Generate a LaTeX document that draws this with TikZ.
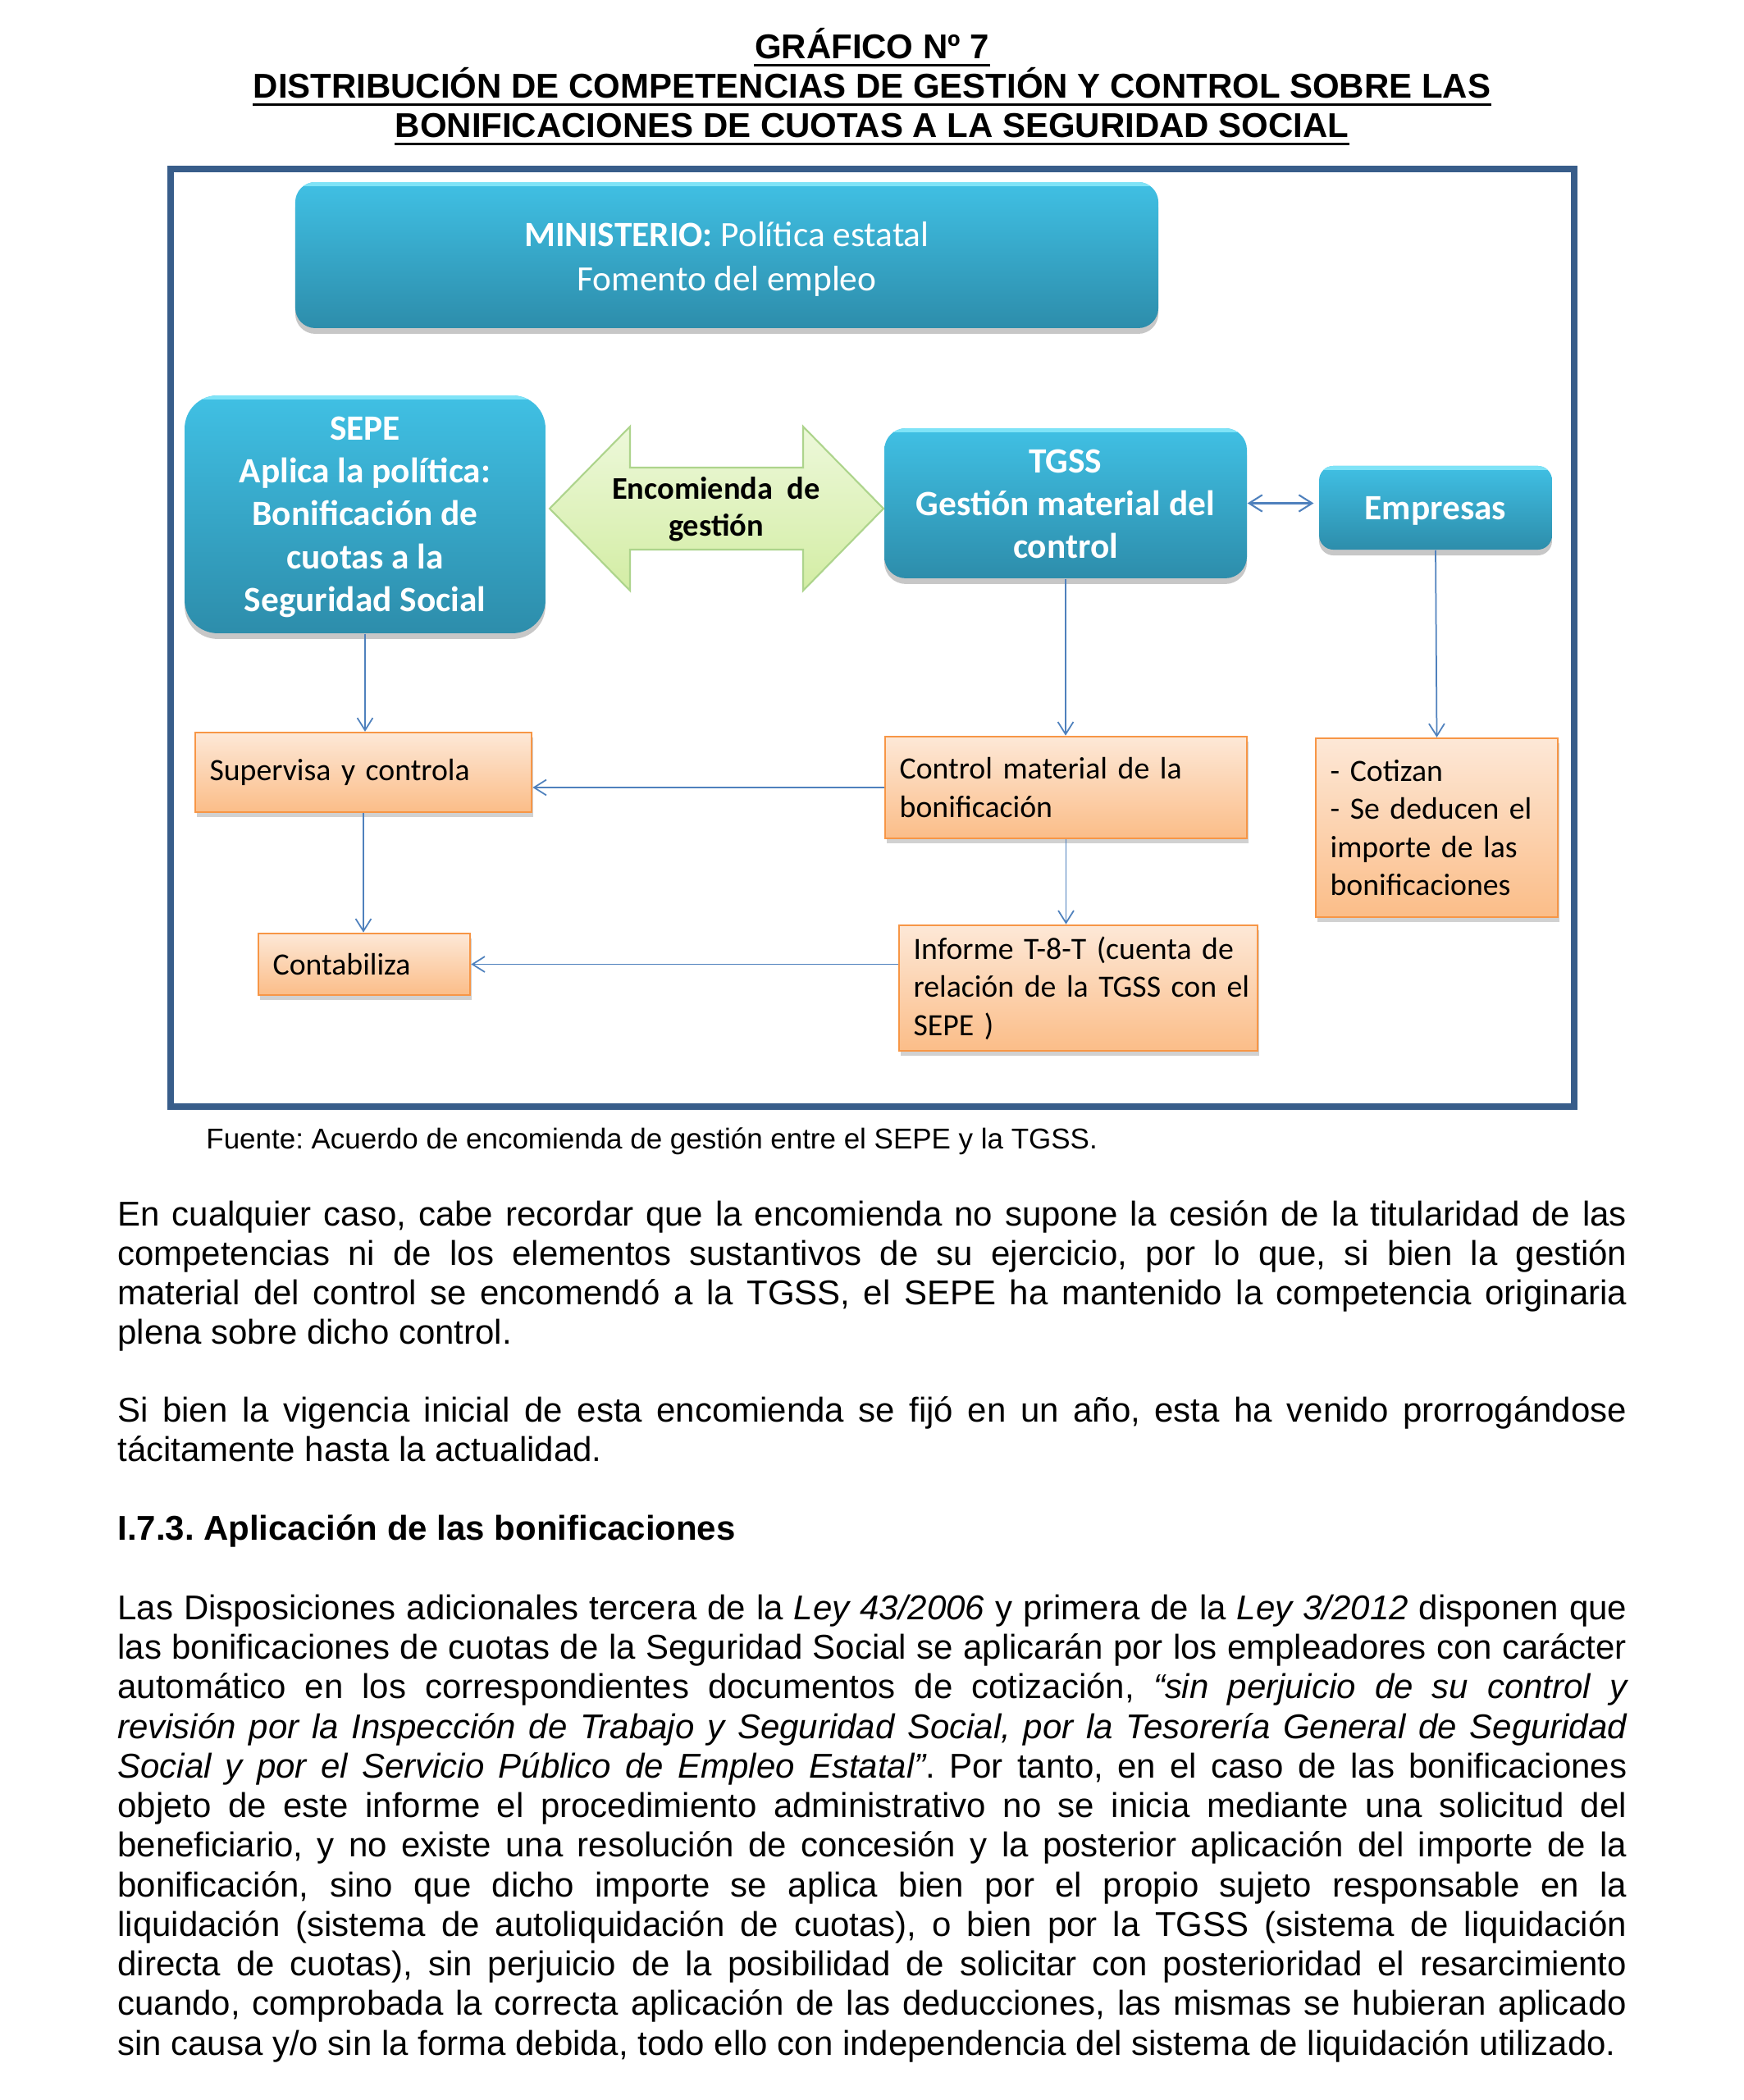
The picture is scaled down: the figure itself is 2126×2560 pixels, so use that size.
\documentclass[tikz,border=0pt]{standalone}
\usepackage{fontspec}
\setmainfont{Liberation Sans}
\newfontfamily\calib{Carlito}
\usetikzlibrary{arrows.meta,shadows,calc}
\definecolor{frameblue}{HTML}{385D8A}
\definecolor{connblue}{HTML}{4F81BD}
\definecolor{tealtop}{HTML}{40C0E4}
\definecolor{tealbot}{HTML}{2D8DAB}
\definecolor{teallight}{HTML}{7FE3F7}
\definecolor{orgtop}{HTML}{FDE8D7}
\definecolor{orgbot}{HTML}{FBBD88}
\definecolor{orgline}{HTML}{F79646}
\definecolor{grtop}{HTML}{EDF8DA}
\definecolor{grbot}{HTML}{D3EDA4}
\definecolor{grline}{HTML}{ADD48C}
\newcommand\tcell[2]{\raisebox{-#1}[\height][\depth]{\begin{tabular}{@{}c@{}}#2\end{tabular}}}
\newcommand\jpar[1]{\parbox[t]{526.2pt}{\leftskip=0pt\relax\rightskip=0pt\relax
  \parfillskip=0pt plus 1fil\relax\tolerance=9999\relax\hyphenpenalty=10000\relax
  \parindent=0pt\relax #1\par}}
\tikzset{
  tealbox/.style={rectangle, top color=tealtop, bottom color=tealbot, text=white,
    inner sep=0pt,
    drop shadow={shadow xshift=0pt, shadow yshift=-2pt, opacity=0.22, fill=black},
    path picture={\draw[teallight, line width=1.6pt]
      ([yshift=-0.6pt]path picture bounding box.north west) --
      ([yshift=-0.6pt]path picture bounding box.north east);}},
  bigtxt/.style={font=\calib\bfseries\fontsize{12.4}{15}\selectfont},
  orgbox/.style={rectangle, top color=orgtop, bottom color=orgbot, draw=orgline,
    line width=0.7pt, align=left, inner xsep=5.06pt, inner ysep=0pt,
    font=\calib\fontsize{10.8}{13.3}\selectfont,
    drop shadow={shadow xshift=0.6pt, shadow yshift=-1.6pt, opacity=0.18, fill=black}},
  conn/.style={draw=connblue, line width=0.5pt,
    -{Straight Barb[length=4.3pt,width=5.4pt]}},
  para/.style={anchor=base west, inner sep=0pt, font=\fontsize{12}{13.8}\selectfont},
  ttl/.style={anchor=base, inner sep=0pt, font=\bfseries\fontsize{12}{13.8}\selectfont},
  uline/.style={line width=0.9pt, black}
}
\begin{document}
\frenchspacing
\begin{tikzpicture}[x=0.286pt, y=-0.286pt]
\useasboundingbox (0,0) rectangle (2126,2560);
\fill[white] (0,0) rectangle (2126,2560);

% title
\node[ttl] (t1) at (1063,72) {GRÁFICO Nº 7};
\node[ttl] (t2) at (1063,120) {DISTRIBUCIÓN DE COMPETENCIAS DE GESTIÓN Y CONTROL SOBRE LAS};
\node[ttl] (t3) at (1063,168) {BONIFICACIONES DE CUOTAS A LA SEGURIDAD SOCIAL};
\foreach \t in {t1,t2,t3}
  \draw[uline] ([yshift=-2.05pt]\t.base west) -- ([yshift=-2.05pt]\t.base east);

% frame
\draw[frameblue, line width=2.15pt] (208,206) rectangle (1919,1349);

% teal boxes
\node[tealbox, rounded corners=7pt, minimum width=300.9pt, minimum height=50.9pt,
  font=\calib\fontsize{12.4}{15.3}\selectfont] (min) at (886,311)
  {\tcell{1.6pt}{\textbf{MINISTERIO:} Política estatal\\Fomento del empleo}};
\node[tealbox, bigtxt, rounded corners=11.5pt, minimum width=125.8pt, minimum height=82.9pt]
  (sepe) at (445,627)
  {\tcell{1.0pt}{SEPE\\Aplica la política:\\Bonificación de\\cuotas a la\\Seguridad Social}};
\node[tealbox, bigtxt, rounded corners=7.5pt, minimum width=126.4pt, minimum height=52.3pt]
  (tgss) at (1299,613.5) {\tcell{1.3pt}{TGSS\\Gestión material del\\control}};
\node[tealbox, bigtxt, rounded corners=5pt, minimum width=81.2pt, minimum height=29.2pt]
  (emp) at (1750,619) {\tcell{1.1pt}{Empresas}};

% encomienda block arrow
\path[draw=grline, line width=0.6pt, top color=grtop, bottom color=grbot]
  (670,620) -- (768,520) -- (768,570) -- (979,570) -- (979,520) -- (1077,620)
  -- (979,720) -- (979,670) -- (768,670) -- (768,720) -- cycle;
\node[align=center, inner sep=0pt, font=\calib\bfseries\fontsize{11}{12.9}\selectfont]
  (enc) at (873,621) {Encomienda\ \ de\\gestión};

% orange boxes
\node[orgbox, text width=107.2pt, minimum height=27.7pt] (sup) at (443,941.5)
  {\mbox{Supervisa y controla}};
\node[orgbox, text width=116pt, minimum height=35.5pt] (ctrl) at (1299.5,960)
  {\mbox{Control material de la}\\\mbox{bonificación}};
\node[orgbox, text width=74.3pt, minimum height=62.3pt] (cot) at (1751.5,1009)
  {\mbox{- Cotizan}\\\mbox{- Se deducen el}\\\mbox{importe de las}\\\mbox{bonificaciones}};
\node[orgbox, text width=63.7pt, minimum height=21.5pt] (cont) at (444,1175.5)
  {\mbox{Contabiliza}};
\node[orgbox, text width=114.9pt, minimum height=43.8pt] (inf) at (1314.5,1204.5)
  {\mbox{Informe T-8-T (cuenta de}\\\mbox{relación de la TGSS con el}\\\mbox{SEPE )}};

% connectors
\draw[conn] (sepe.south) -- (sepe.south |- sup.north);
\draw[conn] (tgss.south) -- (tgss.south |- ctrl.north);
\draw[conn] (emp.south) -- (cot.north);
\draw[conn] (ctrl.west) -- (ctrl.west -| sup.east);
\draw[conn] (sup.south) -- (sup.south |- cont.north);
\draw[conn] (ctrl.south) -- (ctrl.south |- inf.north);
\draw[conn] (cont.east -| inf.west) -- (cont.east);
\draw[conn, line width=0.6pt, {Straight Barb[length=4.6pt,width=5.8pt]}-{Straight Barb[length=4.6pt,width=5.8pt]},
  shorten >=1.7pt] (tgss.east) -- (tgss.east -| emp.west);

% caption
\node[anchor=base west, inner sep=0pt, font=\fontsize{10}{11.5}\selectfont] (src) at (250.7,1400.7)
  {Fuente: Acuerdo de encomienda de gestión entre el SEPE y la TGSS.};

% body text
\node[para] (p1) at (142.7,1494) {\jpar{En cualquier caso, cabe recordar que la encomienda no supone la cesión de la titularidad de las\linebreak
competencias ni de los elementos sustantivos de su ejercicio, por lo que, si bien la gestión\linebreak
material del control se encomendó a la TGSS, el SEPE ha mantenido la competencia originaria\linebreak
plena sobre dicho control.}};

\node[para] (p2) at (142.7,1733.3) {\jpar{Si bien la vigencia inicial de esta encomienda se fijó en un año, esta ha venido prorrogándose\linebreak
tácitamente hasta la actualidad.}};

\node[anchor=base west, inner sep=0pt, font=\bfseries\fontsize{12}{13.8}\selectfont] (h1) at (142.7,1877.3)
  {I.7.3. Aplicación de las bonificaciones};

\node[para] (p3) at (142.7,1974.3) {\jpar{Las Disposiciones adicionales tercera de la \textit{Ley 43/2006} y primera de la \textit{Ley 3/2012} disponen que\linebreak
las bonificaciones de cuotas de la Seguridad Social se aplicarán por los empleadores con carácter\linebreak
automático en los correspondientes documentos de cotización, \textit{“sin perjuicio de su control y\linebreak
revisión por la Inspección de Trabajo y Seguridad Social, por la Tesorería General de Seguridad\linebreak
Social y por el Servicio Público de Empleo Estatal”}. Por tanto, en el caso de las bonificaciones\linebreak
objeto de este informe el procedimiento administrativo no se inicia mediante una solicitud del\linebreak
beneficiario, y no existe una resolución de concesión y la posterior aplicación del importe de la\linebreak
bonificación, sino que dicho importe se aplica bien por el propio sujeto responsable en la\linebreak
liquidación (sistema de autoliquidación de cuotas), o bien por la TGSS (sistema de liquidación\linebreak
directa de cuotas), sin perjuicio de la posibilidad de solicitar con posterioridad el resarcimiento\linebreak
cuando, comprobada la correcta aplicación de las deducciones, las mismas se hubieran aplicado\linebreak
sin causa y/o sin la forma debida, todo ello con independencia del sistema de liquidación utilizado.}};
\end{tikzpicture}
\end{document}
